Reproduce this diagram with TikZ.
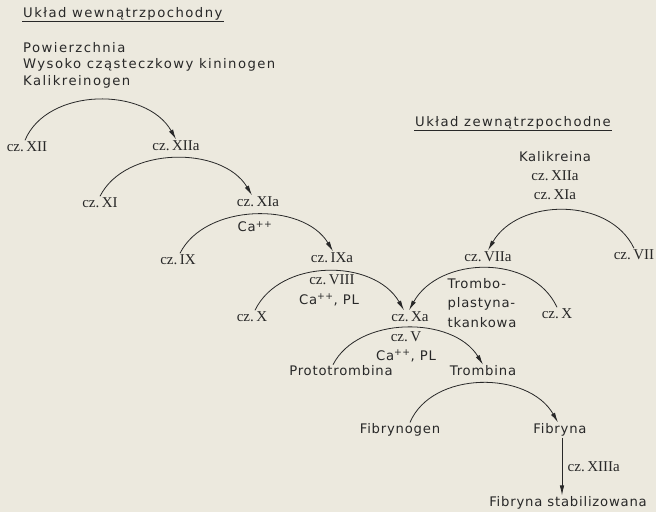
\documentclass[tikz,border=0pt]{standalone}
\usepackage{fontspec}
\setmainfont[LetterSpace=6]{DejaVu Sans}
\newfontfamily\headfont[LetterSpace=11]{DejaVu Sans}
\newfontfamily\serifnum{Liberation Serif}
\usetikzlibrary{arrows.meta,calc}
\definecolor{paper}{RGB}{236,233,222}
\definecolor{ink}{RGB}{40,40,40}
\begin{document}
\begin{tikzpicture}[x=1pt,y=-1pt,
  txt/.style={font=\fontsize{13.2}{19.5}\selectfont, text=ink, inner sep=1pt},
  head/.style={font=\headfont\fontsize{13.2}{17}\selectfont, text=ink, inner sep=1pt},
  cz/.style={font=\serifnum\fontsize{15}{17}\selectfont, text=ink, inner sep=1.5pt},
  arr/.style={draw=ink, line width=0.8pt, -{Latex[length=10pt,width=4.5pt]}},
  uline/.style={draw=ink, line width=0.8pt}]
\fill[paper] (0,0) rectangle (656,512);
\useasboundingbox (0,0) rectangle (656,512);
% headers
\node[head, anchor=west] (h1) at (22,14) {Układ\ wewnątrzpochodny};
\draw[uline] (h1.south west) -- (h1.south east);
\node[head, anchor=west] (p1) at (22,48) {Powierzchnia};
\node[head, anchor=west] (p2) at (22,65) {Wysoko cząsteczkowy kininogen};
\node[head, anchor=west] (p3) at (22,82) {Kalikreinogen};
\node[head, anchor=west] (h2) at (414,123) {Układ zewnątrzpochodne};
\draw[uline] (h2.south west) -- (h2.south east);
\node[txt] (k1) at (555,157) {Kalikreina};
\node[cz] (k2) at (555,176) {cz.\,XIIa};
\node[cz] (k3) at (555,195) {cz.\,XIa};
% intrinsic cascade
\node[cz] (xii) at (27,147) {cz.\,XII};
\node[cz] (xiia) at (176,146) {cz.\,XIIa};
\node[cz] (xi) at (100,203) {cz.\,XI};
\node[cz] (xia) at (258,202) {cz.\,XIa};
\node[txt] (ca1) at (255,227) {Ca\textsuperscript{++}};
\node[cz] (ix) at (178,260) {cz.\,IX};
\node[cz] (ixa) at (332,258) {cz.\,IXa};
\node[cz] (viii) at (332,280) {cz.\,VIII};
\node[txt] (ca2) at (329,300) {Ca\textsuperscript{++}, PL};
\node[cz] (xl) at (252,317) {cz.\,X};
\node[cz] (xa) at (410,317) {cz.\,Xa};
% extrinsic
\node[cz] (vii) at (634,255) {cz.\,VII};
\node[cz] (viia) at (488,257) {cz.\,VIIa};
\node[txt, align=left] (tromb) at (482,303) {Trombo-\\plastyna-\\tkankowa};
\node[cz] (xr) at (557,314) {cz.\,X};
% common
\node[cz] (v) at (406,337) {cz.\,V};
\node[txt] (ca3) at (406,356) {Ca\textsuperscript{++}, PL};
\node[txt] (proto) at (341,371) {Prototrombina};
\node[txt] (trom) at (483,371) {Trombina};
\node[txt] (fgen) at (400,430) {Fibrynogen};
\node[txt] (fib) at (560,430) {Fibryna};
\node[txt] (stab) at (568,503) {Fibryna stabilizowana};
\node[cz, anchor=west] (xiiia) at (566,467) {cz.\,XIIIa};
% arcs
\draw[arr] ([xshift=-2pt]xii.north) .. controls +(22,-53) and +(-30,-53) .. (xiia.north);
\draw[arr] (xi.north) .. controls +(25,-50) and +(-30,-50) .. ([xshift=-6pt]xia.north);
\draw[arr] ([xshift=2pt]ix.north) .. controls +(25,-50) and +(-30,-50) .. ([xshift=1pt]ixa.north);
\draw[arr] ([xshift=3pt]xl.north) .. controls +(25,-52) and +(-30,-52) .. ([xshift=-6pt]xa.north);
\draw[arr] (xr.north) .. controls +(-25,-54) and +(30,-54) .. ([xshift=-1pt]xa.north);
\draw[arr] (vii.north) .. controls +(-25,-52) and +(30,-52) .. (viia.north);
\draw[arr] ([xshift=-8pt]proto.north) .. controls +(25,-49) and +(-30,-49) .. (trom.north);
\draw[arr] ([xshift=10pt]fgen.north) .. controls +(22,-52) and +(-30,-52) .. ([xshift=-2pt]fib.north);
\draw[arr] ([xshift=2pt]fib.south) -- ([xshift=2pt]fib.south |- stab.north);
\end{tikzpicture}
\end{document}
